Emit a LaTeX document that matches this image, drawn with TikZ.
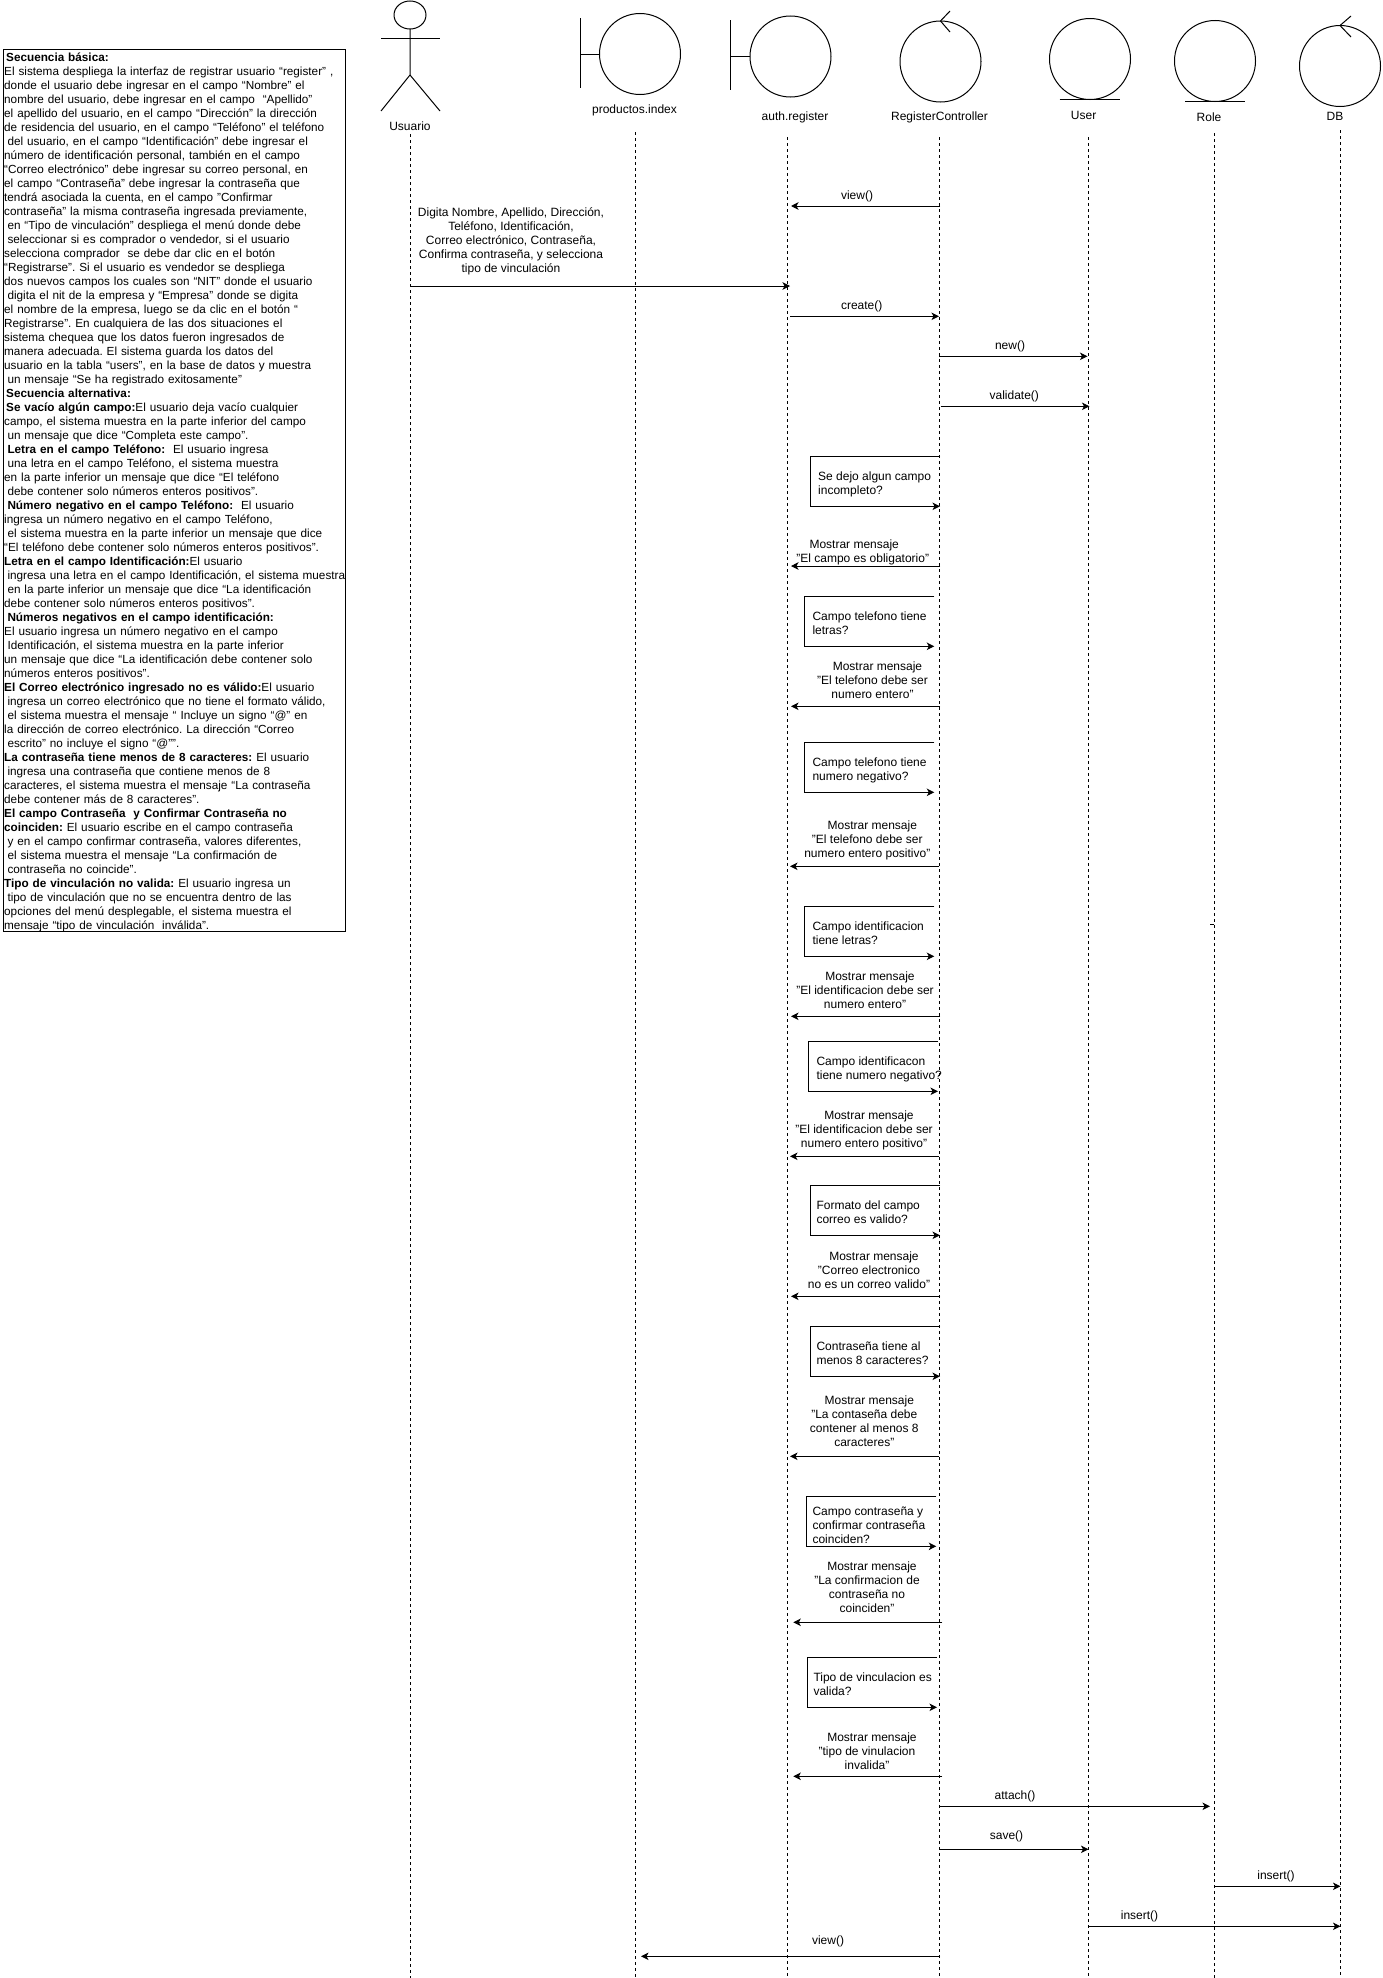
\documentclass[tikz,border=0pt]{standalone}
\usepackage{fontspec}
\setmainfont{Liberation Sans}
\usetikzlibrary{arrows.meta}
\frenchspacing
\def\lsp{\hspace*{3.3pt}}
\def\msp{\hspace*{10pt}}
\def\seqcall[#1](#2:#3:#4){\coordinate (#1from) at (#2,#4); \coordinate (#1to) at (#3,#4); \draw[msg] (#1from) -- (#1to);}
\def\seqcheck[#1](#2:#3:#4:#5){\coordinate (#1a) at (#3,#4); \coordinate (#1b) at (#2,#4); \coordinate (#1c) at (#2,#5); \coordinate (#1d) at (#3,#5); \draw[msg] (#1a) -- (#1b) -- (#1c) -- (#1d);}
\tikzset{
	lifeline/.style={line width=1pt, dash pattern=on 3pt off 3pt},
	msg/.style={line width=1pt, -{Stealth[length=7.5pt,width=7.5pt,inset=2pt]}},
	bubble/.style={draw, circle, line width=1pt, minimum size=81pt, inner sep=0pt, outer sep=0pt},
	lbl/.style={inner sep=0pt, align=center, font=\fontsize{12}{14}\selectfont},
	note/.style={inner sep=0pt, align=left, anchor=west, font=\fontsize{12}{14}\selectfont}
}

\begin{document}
\begin{tikzpicture}[x=1pt,y=-1pt]
			%%%%% START %%%%%
			\useasboundingbox (0,0) rectangle (1382,1978);
			
			\node[draw, line width=1pt, anchor=north west, inner xsep=1pt, inner ysep=0pt, text width=340.6pt, minimum height=882pt, align=left, font=\fontsize{11.75}{14}\selectfont] (usecase) at (2.7,49.3) {%
				\rule{0pt}{11pt}\hspace*{2pt}\textbf{Secuencia básica:}\\
				El sistema despliega la interfaz de registrar usuario “register” ,\\
				donde el usuario debe ingresar en el campo “Nombre” el\\
				nombre del usuario, debe ingresar en el campo \ “Apellido”\\
				el apellido del usuario, en el campo “Dirección” la dirección\\
				de residencia del usuario, en el campo “Teléfono” el teléfono\\
				\lsp del usuario, en el campo “Identificación” debe ingresar el\\
				número de identificación personal, también en el campo\\
				“Correo electrónico” debe ingresar su correo personal, en\\
				el campo “Contraseña” debe ingresar la contraseña que\\
				tendrá asociada la cuenta, en el campo "Confirmar\\
				contraseña" la misma contraseña ingresada previamente,\\
				\lsp en “Tipo de vinculación” despliega el menú donde debe\\
				\lsp seleccionar si es comprador o vendedor, si el usuario\\
				selecciona comprador \ se debe dar clic en el botón\\
				“Registrarse”. Si el usuario es vendedor se despliega\\
				dos nuevos campos los cuales son “NIT” donde el usuario\\
				\lsp digita el nit de la empresa y “Empresa” donde se digita\\
				el nombre de la empresa, luego se da clic en el botón “\\
				Registrarse”. En cualquiera de las dos situaciones el\\
				sistema chequea que los datos fueron ingresados de\\
				manera adecuada. El sistema guarda los datos del\\
				usuario en la tabla “users”, en la base de datos y muestra\\
				\lsp un mensaje “Se ha registrado exitosamente”\\
				\hspace*{2pt}\textbf{Secuencia alternativa:}\\
				\hspace*{2pt}\textbf{Se vacío algún campo:}El usuario deja vacío cualquier\\
				campo, el sistema muestra en la parte inferior del campo\\
				\lsp un mensaje que dice “Completa este campo”.\\
				\lsp\textbf{Letra en el campo Teléfono:} \ El usuario ingresa\\
				\lsp una letra en el campo Teléfono, el sistema muestra\\
				en la parte inferior un mensaje que dice “El teléfono\\
				\lsp debe contener solo números enteros positivos”.\\
				\lsp\textbf{Número negativo en el campo Teléfono:} \ El usuario\\
				ingresa un número negativo en el campo Teléfono,\\
				\lsp el sistema muestra en la parte inferior un mensaje que dice\\
				“El teléfono debe contener solo números enteros positivos”.\\
				\textbf{Letra en el campo Identificación:}El usuario\\
				\lsp\mbox{ingresa una letra en el campo Identificación, el sistema muestra}\\
				\lsp en la parte inferior un mensaje que dice “La identificación\\
				debe contener solo números enteros positivos”.\\
				\lsp\textbf{Números negativos en el campo identificación:}\\
				El usuario ingresa un número negativo en el campo\\
				\lsp Identificación, el sistema muestra en la parte inferior\\
				un mensaje que dice “La identificación debe contener solo\\
				números enteros positivos”.\\
				\textbf{El Correo electrónico ingresado no es válido:}El usuario\\
				\lsp ingresa un correo electrónico que no tiene el formato válido,\\
				\lsp el sistema muestra el mensaje “ Incluye un signo “@” en\\
				la dirección de correo electrónico. La dirección “Correo\\
				\lsp escrito” no incluye el signo “@””.\\
				\textbf{La contraseña tiene menos de 8 caracteres:} El usuario\\
				\lsp ingresa una contraseña que contiene menos de 8\\
				caracteres, el sistema muestra el mensaje “La contraseña\\
				debe contener más de 8 caracteres”.\\
				\textbf{El campo Contraseña \ y Confirmar Contraseña no}\\
				\textbf{coinciden:} El usuario escribe en el campo contraseña\\
				\lsp y en el campo confirmar contraseña, valores diferentes,\\
				\lsp el sistema muestra el mensaje “La confirmación de\\
				\lsp contraseña no coincide”.\\
				\textbf{Tipo de vinculación no valida:} El usuario ingresa un\\
				\lsp tipo de vinculación que no se encuentra dentro de las\\
				opciones del menú desplegable, el sistema muestra el\\
				mensaje “tipo de vinculación \ inválida”.};
			
			\draw[line width=1pt] (410,15) ellipse (16 and 14);
			\draw[line width=1pt] (410,29) -- (410,75) -- (381,111);
			\draw[line width=1pt] (410,75) -- (440,111);
			\draw[line width=1pt] (381,38) -- (440,38);
			
			\node[bubble] (productos) at (640,54) {};
			\draw[line width=1pt] (580,18) -- (580,88);
			\draw[line width=1pt] (580,54) -- (productos.west);
			
			\node[bubble] (auth) at (790.5,56.5) {};
			\draw[line width=1pt] (730,20) -- (730,90);
			\draw[line width=1pt] (730,56.5) -- (auth.west);
			
			\node[bubble] (controller) at (940.5,61.5) {};
			\draw[line width=1pt] (950,11) -- (controller.north) -- (950,32);
			
			\node[bubble] (user) at (1090,59) {};
			\draw[line width=1pt] (1059.5,99.5) -- (1119.5,99.5);
			
			\node[bubble] (role) at (1215,61) {};
			\draw[line width=1pt] (1185,101) -- (1245,101);
			
			\node[bubble] (db) at (1340,66) {};
			\draw[line width=1pt] (1351,16) -- (db.north) -- (1351,37);
			
			\node[lbl] (lblusuario) at (410,126) {Usuario};
			\node[lbl] (lblproductos) at (634.5,110) {productos.index};
			\node[lbl] (lblauth) at (795,117) {auth.register};
			\node[lbl] (lblcontroller) at (939.5,117) {RegisterController};
			\node[lbl] (lbluser) at (1083.6,115) {User};
			\node[lbl] (lblrole) at (1209,117) {Role};
			\node[lbl] (lbldb) at (1335,116) {DB};
			
			\draw[lifeline] (410,134) -- (410,1978);
			\draw[lifeline] (635.5,132) -- (635.5,1978);
			\draw[lifeline] (787.5,137) -- (787.5,1978);
			\draw[lifeline] (939.5,137) -- (939.5,1978);
			\draw[lifeline] (1088.5,137) -- (1088.5,1978);
			\draw[lifeline] (1214.3,133) -- (1214.3,1978);
			\draw[lifeline] (1340,130) -- (1340,1978);
			\draw[line width=1pt] (1210,924.3) -- (1214,924.3);
			
			\seqcall[view](940:791:206);
			\node[lbl] (lblview) at (857,196) {view()};
			
			\node[lbl] (lbldigita) at (511,241) {Digita Nombre, Apellido, Dirección,\\Teléfono, Identificación,\\Correo electrónico, Contraseña,\\Confirma contraseña, y selecciona\\tipo de vinculación};
			\seqcall[digita](410:790:286);
			
			\seqcall[create](790:939:316.3);
			\node[lbl] (lblcreate) at (861.7,306) {create()};
			
			\seqcall[new](939:1087.5:356.3);
			\node[lbl] (lblnew) at (1010,346) {new()};
			
			\seqcall[validate](940.7:1089.5:406.3);
			\node[lbl] (lblvalidate) at (1014.3,396) {validate()};
			
			\seqcheck[vacio](810.3:940:456:506.3);
			\node[note] (txtvacio) at (818,484) {Se dejo algun campo\\incompleto?};
			\seqcall[obligatorio](940:791:566);
			\node[lbl] (lblobligatorio) at (862.7,552) {Mostrar mensaje\hspace*{17pt}\\"El campo es obligatorio"};
			
			\seqcheck[letras](804.3:934.3:596:646.3);
			\node[note] (txtletras) at (812.3,623.5) {Campo telefono tiene\\letras?};
			\seqcall[entero](940:791:706.3);
			\node[lbl] (lblentero) at (872.5,680.7) {\msp Mostrar mensaje\\"El telefono debe ser\\numero entero"};
			
			\seqcheck[negativo](804.3:934.3:742.3:792.3);
			\node[note] (txtnegativo) at (812.3,770) {Campo telefono tiene\\numero negativo?};
			\seqcall[positivo](939:790:866.3);
			\node[lbl] (lblpositivo) at (867.3,840.7) {\msp Mostrar mensaje\\"El telefono debe ser\\numero entero positivo"};
			
			\seqcheck[idletras](804.3:934.3:906.3:956.3);
			\node[note] (txtidletras) at (812.3,933) {Campo identificacion\\tiene letras?};
			\seqcall[identero](940:791:1016.3);
			\node[lbl] (lblidentero) at (865,989.7) {\msp Mostrar mensaje\\"El identificacion debe ser\\numero entero"};
			
			\seqcheck[idnegativo](808.3:938:1041.3:1091.3);
			\node[note] (txtidnegativo) at (816.3,1069) {Campo identificacon\\tiene numero negativo?};
			\seqcall[idpositivo](939:790:1156.3);
			\node[lbl] (lblidpositivo) at (864,1130.7) {\msp Mostrar mensaje\\"El identificacion debe ser\\numero entero positivo"};
			
			\seqcheck[correo](810.3:940:1185.3:1235.3);
			\node[note] (txtcorreo) at (816.3,1212) {Formato del campo\\correo es valido?};
			\seqcall[correomal](940:791:1296.3);
			\node[lbl] (lblcorreomal) at (869,1269.7) {\msp Mostrar mensaje\\"Correo electronico\\no es un correo valido"};
			
			\seqcheck[clave](810.3:940:1326.3:1376.3);
			\node[note] (txtclave) at (816.3,1353) {Contraseña tiene al\\menos 8 caracteres?};
			\seqcall[clavemal](939:790:1456.3);
			\node[lbl] (lblclavemal) at (864.3,1420.7) {\msp Mostrar mensaje\\"La contaseña debe\\contener al menos 8\\caracteres"};
			
			\seqcheck[coincide](806.3:936.3:1496.3:1546.3);
			\node[note] (txtcoincide) at (812.3,1525.7) {Campo contraseña y\\confirmar contraseña\\coinciden?};
			\seqcall[coincidemal](942.3:793.3:1622.3);
			\node[lbl] (lblcoincidemal) at (867,1586.7) {\msp Mostrar mensaje\\"La confirmacion de\\contraseña no\\coinciden"};
			
			\seqcheck[tipo](807.3:937:1657.3:1707.3);
			\node[note] (txttipo) at (813.3,1684) {Tipo de vinculacion es\\valida?};
			\seqcall[tipomal](942.3:793.3:1776.3);
			\node[lbl] (lbltipomal) at (867,1750.7) {\msp Mostrar mensaje\\"tipo de vinulacion\\invalida"};
			
			\seqcall[attach](939:1210:1806.3);
			\node[lbl] (lblattach) at (1015,1796.5) {attach()};
			
			\seqcall[save](940:1088.5:1849.3);
			\node[lbl] (lblsave) at (1006.5,1836.5) {save()};
			
			\seqcall[insertrole](1215:1340.5:1886.3);
			\node[lbl] (lblinsertrole) at (1276,1876.5) {insert()};
			
			\seqcall[insertuser](1089:1340.5:1926.3);
			\node[lbl] (lblinsertuser) at (1139.5,1916) {insert()};
			
			\seqcall[viewend](940:641:1956.3);
			\node[lbl] (lblviewend) at (828,1941.5) {view()};
			
			%%%%% END %%%%%
\end{tikzpicture}
\end{document}
